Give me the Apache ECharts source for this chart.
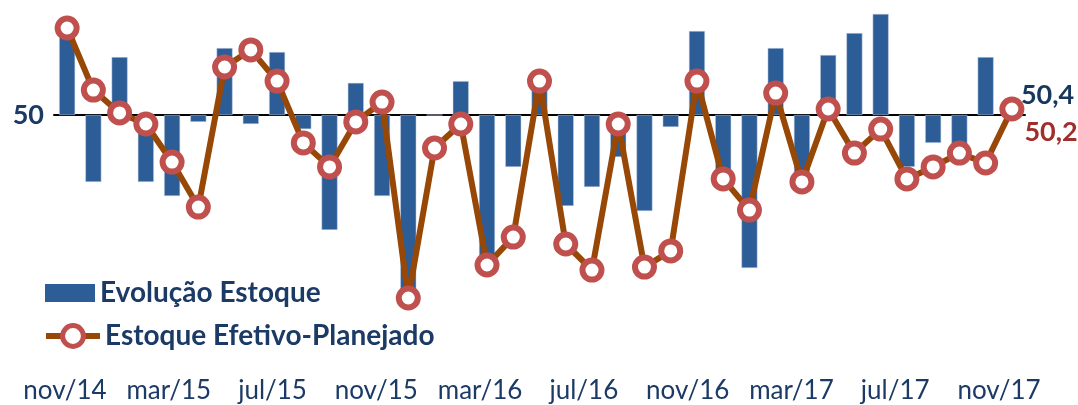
<!DOCTYPE html>
<html>
<head>
<meta charset="utf-8">
<script src="https://cdn.jsdelivr.net/npm/echarts@6/dist/echarts.min.js"></script>
<style>
html, body { margin: 0; padding: 0; background: #fff; }
#main { width: 1078px; height: 405px; }
</style>
</head>
<body>
<div id="main"></div>
<script>
var months = ['nov/14','dez/14','jan/15','fev/15','mar/15','abr/15','mai/15','jun/15','jul/15','ago/15','set/15','out/15',
	'nov/15','dez/15','jan/16','fev/16','mar/16','abr/16','mai/16','jun/16','jul/16','ago/16','set/16','out/16',
	'nov/16','dez/16','jan/17','fev/17','mar/17','abr/17','mai/17','jun/17','jul/17','ago/17','set/17','out/17','nov/17']

var base = 50

// evolucao do estoque, desvio em relacao a 50
var evolucao = [2.83, -2.23, 1.93, -2.23, -2.70, -0.23, 2.23, -0.30, 2.10, -0.47, -3.83, 1.07,
	-2.70, -5.93, 0, 1.13, -4.90, -1.73, 1.00, -3.03, -2.40, -1.40, -3.20, -0.40,
	2.80, -2.00, -5.10, 2.23, -2.00, 2.00, 2.73, 3.37, -1.73, -0.93, -1.17, 1.93, 0.4]

// estoque efetivo - planejado
var efetivo = [52.90, 50.83, 50.07, 49.70, 48.43, 46.93, 51.60, 52.17, 51.13, 49.07, 48.27, 49.77,
	50.43, 43.90, 48.90, 49.70, 45.00, 45.93, 51.13, 45.70, 44.83, 49.70, 44.93, 45.47,
	51.13, 47.87, 46.83, 50.73, 47.77, 50.20, 48.73, 49.53, 47.87, 48.27, 48.73, 48.40, 50.20]

function fmt(v) {
	return v.toFixed(1).replace('.', ',')
}

var navy = '#1B3A66'
var last = months.length - 1

var barData = evolucao.map(function(v, i) {
	if (i !== last) return v
	return {
		value : v,
		label : {
			show : true,
			position : 'right',
			offset : [-4, -14],
			formatter : function(p) { return fmt(base + p.value) },
			color : '#17375E',
			fontFamily : 'Lato',
			fontWeight : 'bold',
			fontSize : 27
		}
	}
})

var lineData = efetivo.map(function(v, i) {
	if (i !== last) return v
	return {
		value : v,
		label : {
			show : true,
			position : 'right',
			offset : [-5, 23],
			formatter : function(p) { return fmt(p.value) },
			color : '#9E2F2D',
			fontFamily : 'Lato',
			fontWeight : 'bold',
			fontSize : 27
		}
	}
})

var legendText = {
	color : navy,
	fontFamily : 'Lato',
	fontWeight : 'bold',
	fontSize : 28
}

var myChart = echarts.init(document.getElementById('main'))

var option = {
	animation : false,
	backgroundColor : '#fff',
	textStyle : { fontFamily : 'Lato' },
	legend : [ {
		left : 40,
		top : 274,
		itemWidth : 50,
		itemHeight : 18,
		textStyle : legendText,
		itemStyle : { borderWidth : 0 },
		data : [ { name : 'Evolução Estoque', icon : 'rect' } ]
	}, {
		left : 38,
		top : 317,
		itemWidth : 54,
		itemHeight : 26,
		textStyle : legendText,
		lineStyle : { width : 6 },
		itemStyle : { borderWidth : 5 },
		data : [ { name : 'Estoque Efetivo-Planejado' } ]
	} ],
	grid : [
		{ left : 54, right : 53, top : 10, bottom : 80 },
		{ left : 52, right : 66, top : 10, bottom : 80 }
	],
	xAxis : [ {
		type : 'category',
		gridIndex : 0,
		data : months,
		axisLine : {
			onZero : true,
			onZeroAxisIndex : 0,
			lineStyle : { color : '#000', width : 2 }
		},
		axisTick : { show : false },
		axisLabel : { show : false }
	}, {
		type : 'category',
		gridIndex : 1,
		data : months,
		axisLine : { show : false },
		axisTick : { show : false },
		axisLabel : {
			interval : 3,
			margin : 53,
			color : navy,
			fontFamily : 'Lato',
			fontSize : 26
		}
	} ],
	yAxis : [ {
		type : 'value',
		gridIndex : 0,
		min : -7,
		max : 3.5,
		show : false
	}, {
		type : 'value',
		gridIndex : 0,
		min : 43,
		max : 53.5,
		position : 'left',
		axisLine : { show : false },
		axisTick : { show : false },
		splitLine : { show : false },
		axisLabel : {
			customValues : [50],
			margin : 10,
			color : navy,
			fontFamily : 'Lato',
			fontWeight : 'bold',
			fontSize : 27
		}
	}, {
		type : 'value',
		gridIndex : 1,
		show : false
	} ],
	series : [ {
		name : 'Evolução Estoque',
		type : 'bar',
		xAxisIndex : 0,
		yAxisIndex : 0,
		barWidth : 16,
		itemStyle : { color : '#2D5D97', borderColor : '#C9D6E8', borderWidth : 0.5 },
		data : barData
	}, {
		name : 'Estoque Efetivo-Planejado',
		type : 'line',
		xAxisIndex : 0,
		yAxisIndex : 1,
		symbol : 'circle',
		symbolSize : 19,
		showSymbol : true,
		showAllSymbol : true,
		clip : false,
		lineStyle : { color : '#974706', width : 6 },
		itemStyle : { color : '#fff', borderColor : '#C0504D', borderWidth : 6 },
		data : lineData
	} ]
}
myChart.setOption(option)
</script>
</body>
</html>
